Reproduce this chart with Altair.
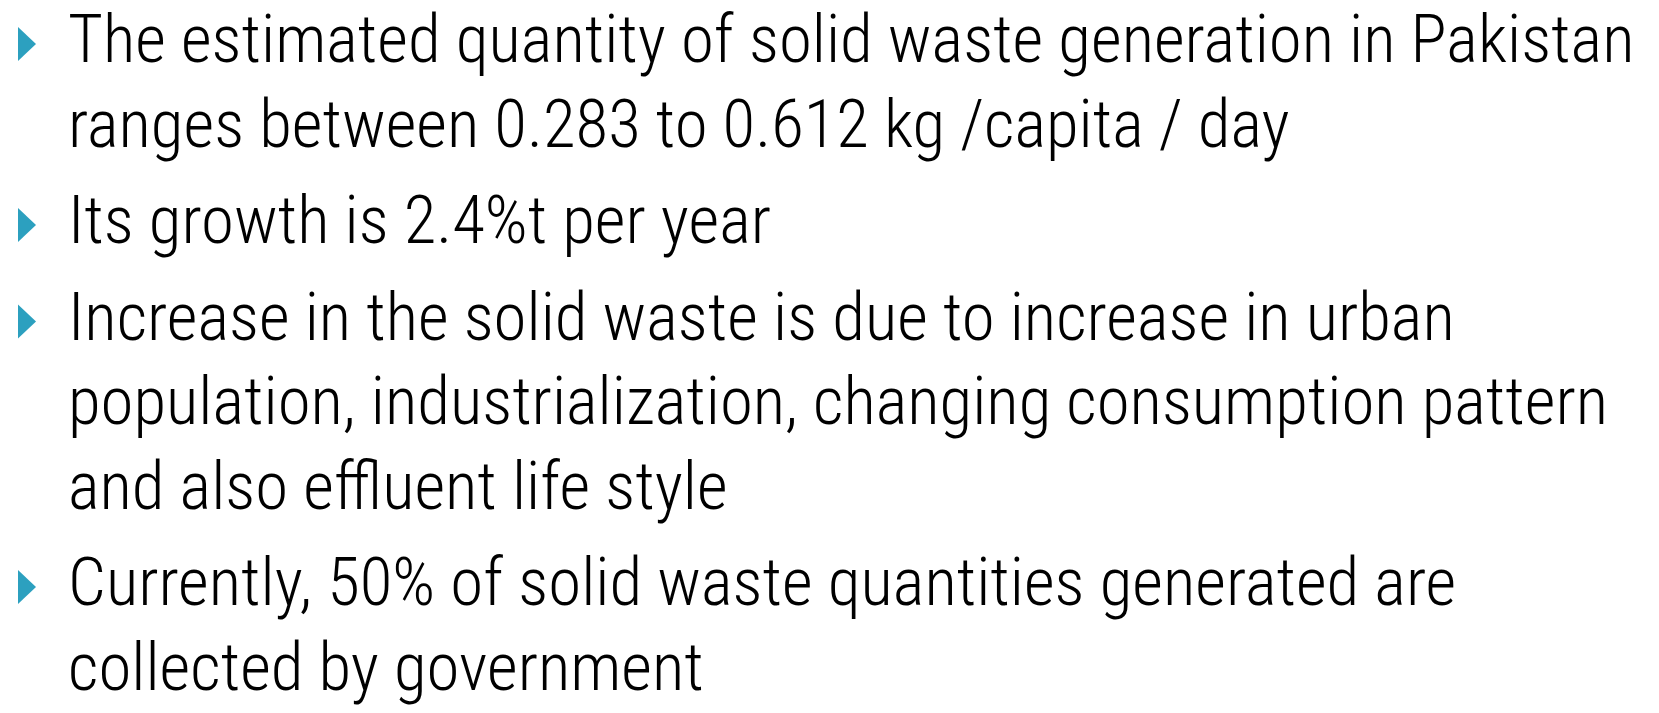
import altair as alt
import pandas as pd

# Slide text: each bullet paragraph split into its displayed lines
paragraphs = [
    ["The estimated quantity of solid waste generation in Pakistan",
     "ranges between 0.283 to 0.612 kg /capita / day"],
    ["Its growth is 2.4%t per year"],
    ["Increase in the solid waste is due to increase in urban",
     "population, industrialization, changing consumption pattern",
     "and also effluent life style"],
    ["Currently, 50% of solid waste quantities generated are",
     "collected by government"],
]

W, H = 1643, 697
FIRST_BASELINE = 54
LINE_H = 84.5
PARA_GAP = 12
TEXT_X = 60
BULLET_X = 19
BULLET_RISE = 18
FONT = "Roboto Condensed, Liberation Sans Narrow, DejaVu Sans Condensed, sans-serif"
FONT_SIZE = 67
BULLET_COLOR = "#2ca0bf"

rows = []
bullets = []
line_i = 0
for p_i, lines in enumerate(paragraphs):
    for j, txt in enumerate(lines):
        y = FIRST_BASELINE + LINE_H * line_i + PARA_GAP * p_i
        rows.append({"text": txt, "y": y})
        if j == 0:
            bullets.append({"y": y - BULLET_RISE})
        line_i += 1

text_df = pd.DataFrame(rows)
bullet_df = pd.DataFrame(bullets)

yscale = alt.Scale(domain=[0, H], range=[0, H], nice=False, zero=False)

text = alt.Chart(text_df).mark_text(
    align="left", baseline="alphabetic", font=FONT, fontSize=FONT_SIZE,
    fontWeight=300, color="#000000"
).encode(
    x=alt.value(TEXT_X),
    y=alt.Y("y:Q", scale=yscale, axis=None),
    text="text:N",
)

bul = alt.Chart(bullet_df).mark_point(
    shape="M-0.53,-1L0.53,0L-0.53,1Z", filled=True, opacity=1, color=BULLET_COLOR,
    size=34 * 34, strokeWidth=0,
).encode(
    x=alt.value(BULLET_X),
    y=alt.Y("y:Q", scale=yscale, axis=None),
)

chart = alt.layer(bul, text).properties(
    width=W, height=H, padding=0, background="white",
    autosize=alt.AutoSizeParams(type="none"),
).configure_view(stroke=None)

chart.save("out.html", embed_options={"renderer": "svg", "actions": False})
